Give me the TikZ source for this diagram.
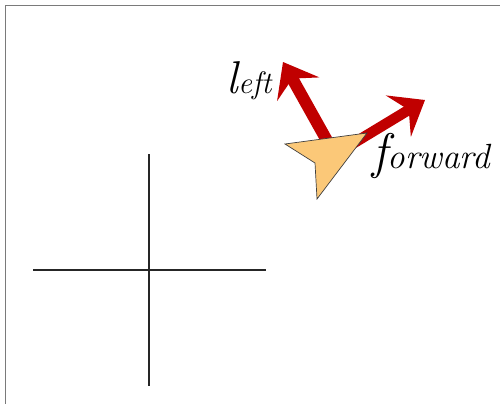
\documentclass[tikz,border=0pt]{standalone}
\usetikzlibrary{arrows.meta,positioning,calc}
\definecolor{vecred}{HTML}{C00000}
\definecolor{agentfill}{HTML}{FBC878}
\definecolor{framegray}{HTML}{7A7A7A}
\tikzset{
  frameline/.style={draw=framegray,line width=1.4pt},
  axisline/.style={draw=black!85,line width=1.7pt},
  vec/.style={-{Stealth[length=31pt,width=48pt,inset=12pt]},line width=12pt,color=vecred},
  agent/.style={fill=agentfill,draw=black!75,line width=0.7pt,line join=miter},
  biglabel/.style={font=\fontsize{#1}{#1}\selectfont\itshape,inner sep=0pt,anchor=base west,text=black},
  smalllabel/.style={font=\fontsize{#1}{#1}\selectfont\itshape,inner sep=0pt,anchor=base west,text=black},
}
\begin{document}
\begin{tikzpicture}[x=1pt,y=-1pt]
  \useasboundingbox (0,0) rectangle (500,404);
  % frame
  \draw[frameline] (500,5.5) -- (5.5,5.5) -- (5.5,404);
  % cross
  \coordinate (crossn) at (149.2,154);
  \coordinate (crosss) at (149.2,386);
  \coordinate (crossw) at (33,270.2);
  \coordinate (crosse) at (266,270.2);
  \draw[axisline] (crossn) -- (crosss);
  \draw[axisline] (crossw) -- (crosse);
  % vectors
  \coordinate (leftbase) at (330,146);
  \coordinate (lefttip) at (283,62);
  \coordinate (fwdbase) at (349,146);
  \coordinate (fwdtip) at (425,100);
  \draw[vec] (leftbase) -- (lefttip);
  \draw[vec,line width=10.5pt] (fwdbase) -- (fwdtip);
  % agent
  \draw[agent] (285,144) -- (367,133) -- (317,199) -- (315,163) -- cycle;
  % labels
  \node[biglabel=46] (leftl) at (226,93) {l};
  \node[smalllabel=31,right=0pt of leftl.base east,anchor=base west] (lefteft) {eft};
  \node[biglabel=50] (fwdf) at (372,168) {f};
  \node[smalllabel=35,right=0pt of fwdf.base east,anchor=base west] (fwdorward) {orward};
\end{tikzpicture}
\end{document}
